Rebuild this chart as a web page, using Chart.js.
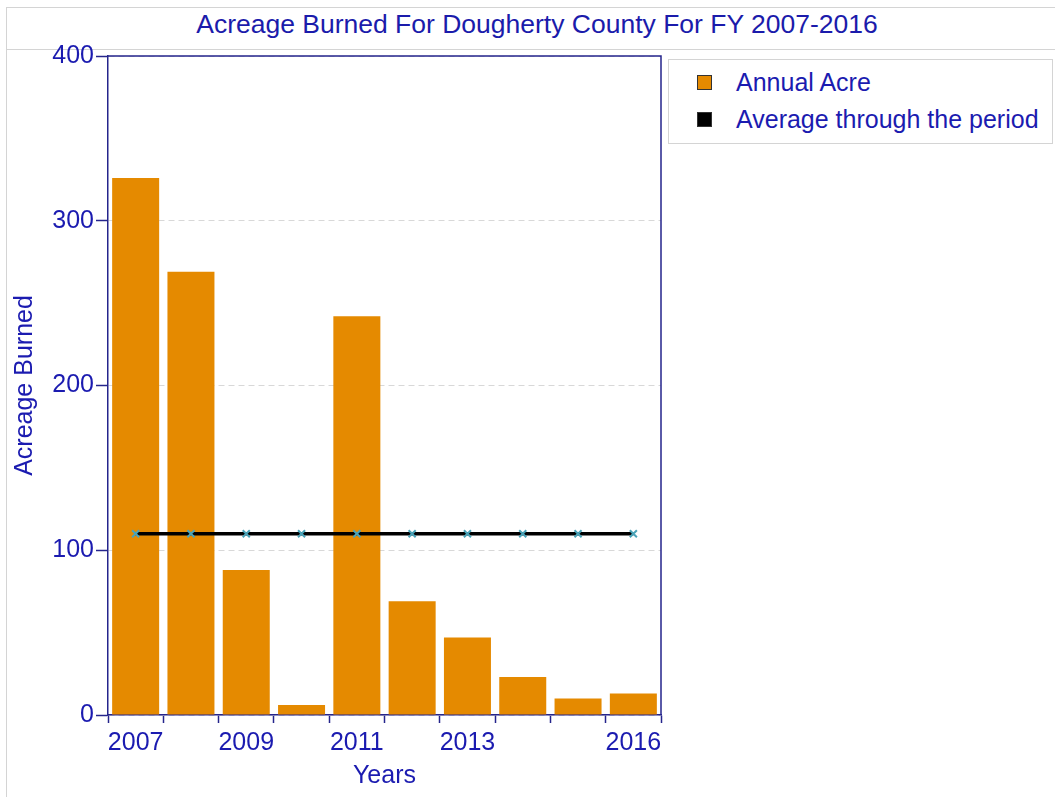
<!DOCTYPE html>
<html>
<head>
<meta charset="utf-8">
<script src="https://cdn.jsdelivr.net/npm/chart.js@4.4.1/dist/chart.umd.min.js"></script>
<style>
  body { margin: 0; background: #fff; font-family: "Liberation Sans", Arial, sans-serif; }
  #wrap { position: relative; width: 1055px; height: 797px; overflow: hidden; }
  #frame { position: absolute; left: 6px; top: 7px; width: 1200px; height: 900px; border: 1px solid #d4d4d4; }
  #sep { position: absolute; left: 6px; top: 49px; width: 1200px; border-top: 1px solid #d4d4d4; }
  #title { position: absolute; left: 0; top: 9px; width: 1074px; text-align: center; color: #1b1bab; font-size: 26.5px; }
  #legend { position: absolute; left: 668px; top: 59px; width: 385px; height: 85px; box-sizing: border-box; border: 1px solid #d4d4d4; }
  .item { position: absolute; left: 0; height: 30px; line-height: 30px; color: #1b1bb0; font-size: 25px; white-space: nowrap; }
  .item span { position: absolute; left: 28px; top: 8px; width: 13px; height: 13px; border: 1px solid #333; }
  .item b { position: absolute; left: 67px; font-weight: normal; }
  #chart { position: absolute; left: 0; top: 0; }
</style>
</head>
<body>
<div id="wrap">
  <div id="frame"></div>
  <div id="sep"></div>
  <div id="title">Acreage Burned For Dougherty County For FY 2007-2016</div>
  <div id="legend">
    <div class="item" style="top:7px"><span style="background:#e58a00"></span><b>Annual Acre</b></div>
    <div class="item" style="top:44px"><span style="background:#000"></span><b>Average through the period</b></div>
  </div>
  <canvas id="chart" width="1055" height="797"></canvas>
</div>
<script>
// data
const years = ['2007', '2008', '2009', '2010', '2011', '2012', '2013', '2014', '2015', '2016'];
const shownYears = ['2007', '2009', '2011', '2013', '2016'];
const annualAcre = [326, 269, 88, 6, 242, 69, 47, 23, 10, 13];
const periodAverage = [110, 110, 110, 110, 110, 110, 110, 110, 110, 110];
const yTicks = [0, 100, 200, 300, 400];

const navy = '#25258c';
const blue = '#1b1bb0';

// box round the plot area (top and right sides)
const plotFrame = {
    id: 'plotFrame',
    afterDraw(chart) {
        const a = chart.chartArea;
        const ctx = chart.ctx;
        ctx.save();
        ctx.strokeStyle = navy;
        ctx.lineWidth = 1.5;
        ctx.beginPath();
        ctx.moveTo(a.left, a.top);
        ctx.lineTo(a.right, a.top);
        ctx.lineTo(a.right, a.bottom);
        ctx.stroke();
        ctx.restore();
    }
};

const ctxAcre = document.getElementById('chart').getContext('2d');
const chartAcre = new Chart(ctxAcre, {
    type: 'bar',
    data: {
        labels: years,
        datasets: [{
            type: 'line',
            label: 'Average through the period',
            data: periodAverage,
            borderColor: '#000',
            borderWidth: 3.5,
            pointStyle: 'crossRot',
            pointRadius: 5,
            pointBorderColor: '#4aa3b8',
            pointBorderWidth: 2,
            order: 0
        }, {
            label: 'Annual Acre',
            data: annualAcre,
            backgroundColor: '#e58a00',
            categoryPercentage: 1,
            barPercentage: 0.85,
            order: 1
        }]
    },
    options: {
        responsive: false,
        animation: false,
        layout: { padding: { top: 56, right: 394, left: 0, bottom: 0 } },
        plugins: { legend: { display: false }, tooltip: { enabled: false } },
        scales: {
            x: {
                offset: true,
                grid: { offset: true, drawOnChartArea: false, tickLength: 8, tickColor: navy, tickWidth: 1.5 },
                border: { color: navy, width: 1.5 },
                ticks: {
                    autoSkip: false, maxRotation: 0, padding: 5, color: blue,
                    font: { family: 'Liberation Sans', size: 25 },
                    callback: function (v, i) { return shownYears.includes(years[i]) ? years[i] : ''; }
                },
                title: { display: true, text: 'Years', color: blue, font: { family: 'Liberation Sans', size: 25 }, padding: { top: 0, bottom: 6 } },
                afterFit: function (s) { s.height = 82; }
            },
            y: {
                min: 0, max: 400,
                afterBuildTicks: function (s) { s.ticks = yTicks.map(v => ({ value: v })); },
                ticks: { color: blue, padding: 2, font: { family: 'Liberation Sans', size: 25 } },
                grid: { color: '#d8d8d8', lineWidth: 1, tickLength: 12, tickColor: navy, tickWidth: 1.5, tickBorderDash: [] },
                border: { color: navy, width: 1.5, dash: [6, 4] },
                title: { display: true, text: 'Acreage Burned', color: blue, font: { family: 'Liberation Sans', size: 25 }, padding: { top: 10, bottom: 0 } },
                afterFit: function (s) { s.width = 108; }
            }
        }
    },
    plugins: [plotFrame]
});
</script>
</body>
</html>
